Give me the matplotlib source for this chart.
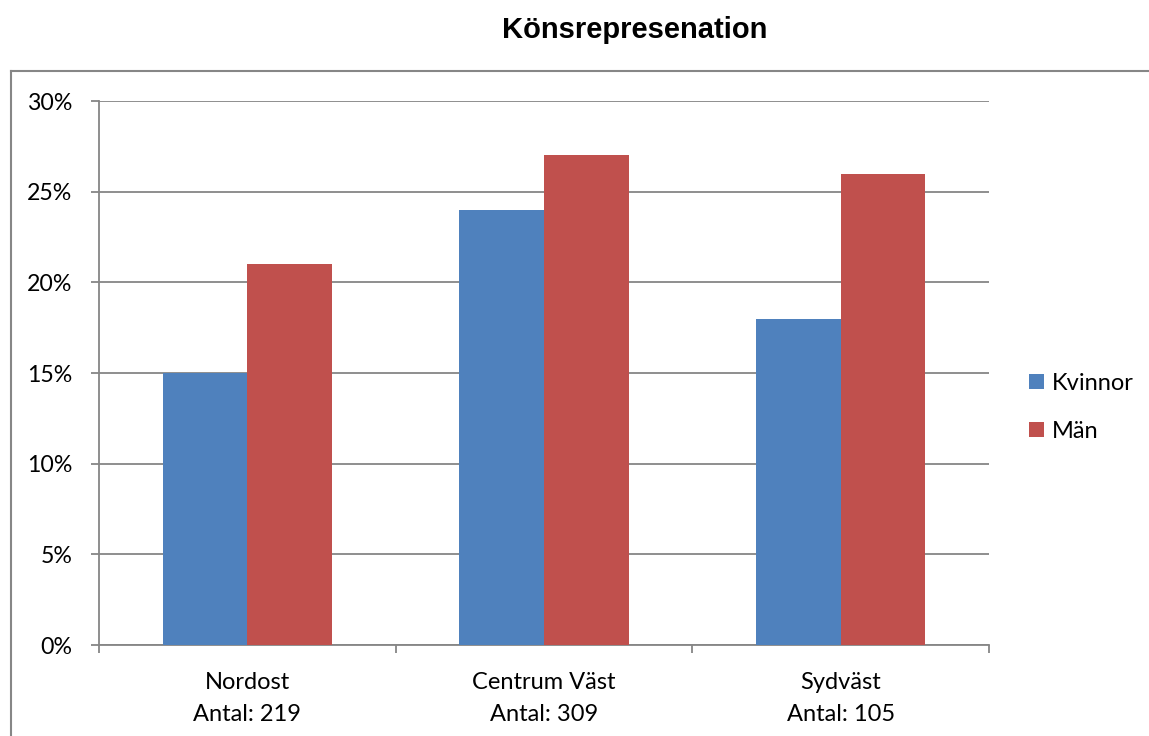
import matplotlib.pyplot as plt
import numpy as np
from matplotlib.lines import Line2D

# Data
regions = ["Nordost\nAntal: 219", "Centrum Väst\nAntal: 309", "Sydväst\nAntal: 105"]
kvinnor = [15, 24, 18]
man = [21, 27, 26]
yticks = [0, 5, 10, 15, 20, 25, 30]

blue = "#4F81BD"
red = "#C0504D"
gray = "#868686"

plt.rcParams['font.family'] = ['Lato', 'DejaVu Sans']

fig = plt.figure(figsize=(11.49, 7.36), dpi=100)
ax = fig.add_axes([99 / 1149, 1 - 645 / 736, 890 / 1149, 544 / 736])

x = np.arange(len(regions))
w = 0.285
ax.bar(x - w / 2, kvinnor, w, color=blue, label="Kvinnor", zorder=3)
ax.bar(x + w / 2, man, w, color=red, label="Män", zorder=3)

ax.set_xlim(-0.5, 2.5)
ax.set_ylim(0, 30)
ax.set_yticks(yticks)
ax.set_yticklabels([f"{t}%" for t in yticks], fontsize=16.7)
ax.yaxis.grid(True, color=gray, lw=1.3, zorder=0)

# category separators as ticks
ax.set_xticks([-0.5, 0.5, 1.5, 2.5])
ax.set_xticklabels([])
ax.set_xticks(x, minor=True)
ax.set_xticklabels(regions, minor=True, fontsize=17, linespacing=1.65)
ax.tick_params(axis="x", which="major", length=6, width=1.3, color=gray, direction="out")
ax.tick_params(axis="x", which="minor", length=0, pad=19.5)
ax.tick_params(axis="y", length=6, width=1.3, color=gray, pad=13)

for s in ["top", "right"]:
    ax.spines[s].set_visible(False)
ax.spines["left"].set_color(gray)
ax.spines["left"].set_linewidth(1.3)
ax.spines["bottom"].set_color(gray)
ax.spines["bottom"].set_linewidth(1.3)

leg = ax.legend(loc="center left", bbox_to_anchor=(1.021, 0.4366), frameon=False,
                fontsize=17, handlelength=0.62, handleheight=0.62,
                handletextpad=0.35, labelspacing=1.15)

# outer chart frame
fx = 11 / 1149
fy = 1 - 71 / 736
fig.add_artist(Line2D([fx, fx], [0, fy], transform=fig.transFigure, color=gray, lw=1.5))
fig.add_artist(Line2D([fx, 1], [fy, fy], transform=fig.transFigure, color=gray, lw=1.5))

fig.text(635 / 1149, 1 - 30 / 736, "Könsrepresenation", ha="center", va="center",
         fontsize=21, fontweight="bold", family=["Liberation Sans", "DejaVu Sans"])

fig.savefig("out.png", dpi=100)
